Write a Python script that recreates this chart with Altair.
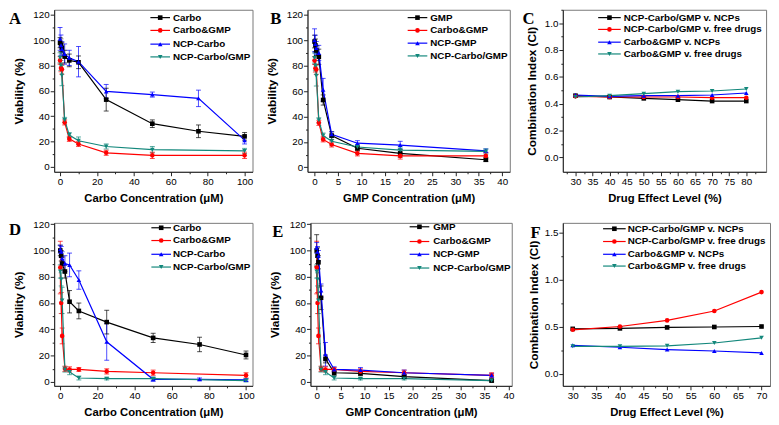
import altair as alt
import pandas as pd

FONT = "Liberation Sans"
COLORS = ["#000000", "#ff0000", "#0000ff", "#12877b"]
SHAPES = ["square", "circle", "triangle-up", "triangle-down"]

# ---------------- data ----------------
carbo_x = [0, 0.5, 1, 2.5, 5, 10, 25, 50, 75, 100]
combo_carbo_x = [0, 0.5, 1, 2.5, 5, 10, 25, 50, 100]
gmp_x = [0, 0.18, 0.37, 0.91, 1.83, 3.65, 9.13, 18.25, 36.5]
ce_x_top = [30, 40, 50, 60, 70, 80]
ce_x_bot = [30, 40, 50, 60, 70]

# Panel A / B (top row)
a_carbo_y = [98, 96, 94, 87, 84, 82.5, 53, 34, 28, 24]
a_carbo_err = [4, 5, 4, 5, 5, 5, 9, 3, 5, 3]
a_ncp_carbo_y = [101, 96, 93, 89, 86, 83, 59.5, 57, 54, 21]
a_ncp_carbo_err = [9, 8, 6, 8, 6, 12, 5.5, 2, 6.5, 3]
top_combo_y = [84, 78, 77, 35, 22, 18, 11, 9, 9]
top_combo_err = [3, 3, 4, 2, 2, 2, 2, 2.5, 2.5]
top_ncp_combo_y = [86, 80, 72, 37, 25, 20.5, 16, 13.5, 12.5]
top_ncp_combo_err = [4, 4, 8, 2, 2, 3, 2, 2.5, 2]
b_gmp_y = [99, 96, 92, 87, 53, 25, 15, 11, 6]
b_gmp_err = [5, 5, 4, 6, 4, 3, 2, 3, 1.5]
b_ncp_gmp_y = [100, 97, 94, 90, 61, 26, 19, 17.5, 13]
b_ncp_gmp_err = [9, 7, 5, 6, 9, 2, 2, 3, 1.5]

# Panel C
c_ncp_v_ncps = [0.46, 0.45, 0.44, 0.43, 0.42, 0.42]
c_ncp_v_free = [0.455, 0.45, 0.45, 0.45, 0.445, 0.445]
c_combo_v_ncps = [0.465, 0.455, 0.46, 0.46, 0.465, 0.48]
c_combo_v_free = [0.45, 0.46, 0.475, 0.49, 0.495, 0.51]

# Panel D / E (bottom row)
d_carbo_y = [100, 96, 90, 84, 61, 54, 45.5, 33.5, 28.5, 20.5]
d_carbo_err = [4, 4, 5, 5, 8.5, 6, 9, 3.5, 5.5, 3]
d_ncp_carbo_y = [101, 99, 94, 90, 89, 77.5, 30.5, 2, 2, 1.5]
d_ncp_carbo_err = [3, 4, 5, 6, 9, 7, 14, 1.5, 1, 1]
bot_combo_y = [87, 60, 35, 10, 9.5, 9.5, 8, 7, 5]
bot_combo_err = [20, 8, 6, 2, 2, 1.5, 2, 2, 2]
bot_ncp_combo_y = [84, 78, 62, 9.5, 7.5, 3, 2.5, 2.5, 1]
bot_ncp_combo_err = [5, 5, 10, 2, 2, 1.5, 1, 1, 1]
e_gmp_y = [100, 96, 91, 64, 17.5, 7, 6.5, 4, 1]
e_gmp_err = [12, 6, 5, 9, 3, 2, 1.5, 1.5, 1]
e_ncp_gmp_y = [102, 99, 96, 69.5, 21, 9.5, 9, 7, 5]
e_ncp_gmp_err = [4, 4, 4, 5, 9, 2, 2, 2, 1.5]

# Panel F
f_ncp_v_ncps = [0.475, 0.48, 0.49, 0.495, 0.5]
f_ncp_v_free = [0.465, 0.5, 0.565, 0.665, 0.865]
f_combo_v_ncps = [0.3, 0.28, 0.255, 0.24, 0.22]
f_combo_v_free = [0.29, 0.29, 0.295, 0.325, 0.38]

names_a = ["Carbo", "Carbo&GMP", "NCP-Carbo", "NCP-Carbo/GMP"]
names_b = ["GMP", "Carbo&GMP", "NCP-GMP", "NCP-Carbo/GMP"]
names_ci = ["NCP-Carbo/GMP v. NCPs", "NCP-Carbo/GMP v. free drugs",
            "Carbo&GMP v. NCPs", "Carbo&GMP v. free drugs"]

carbo_title = "Carbo Concentration (\u03bcM)"
gmp_title = "GMP Concentration (\u03bcM)"
del_title = "Drug Effect Level (%)"
via_title = "Viability (%)"
ci_title = "Combination Index (CI)"


def frange(a, b, step):
    n = int(round((b - a) / step))
    return [round(a + i * step, 6) for i in range(n + 1)]


def panel(letter, letter_xy, series, w, h, xdom, ydom, xticks, xtest,
          yticks, ytest, xtitle, ytitle, legend_geom, yfmt=None, ytpad=8):
    rows = []
    has_err = False
    for k, (name, xs, ys, errs) in enumerate(series):
        for i, (xv, yv) in enumerate(zip(xs, ys)):
            e = errs[i] if errs else 0
            if errs:
                has_err = True
            rows.append(dict(k=k, s=name, x=xv, y=yv, lo=yv - e, hi=yv + e))
    df = pd.DataFrame(rows)
    names = [s[0] for s in series]
    kd = list(range(len(names)))
    color = alt.Color("k:N", scale=alt.Scale(domain=kd, range=COLORS), legend=None)
    shape = alt.Shape("k:N", scale=alt.Scale(domain=kd, range=SHAPES), legend=None)
    xaxis = alt.Axis(values=xticks, labelExpr=f"({xtest}) ? datum.label : ''",
                     tickSize={"condition": {"test": xtest, "value": 4}, "value": 2},
                     title=xtitle, labelOverlap=False)
    yargs = dict(values=yticks, labelExpr=f"({ytest}) ? datum.label : ''",
                 tickSize={"condition": {"test": ytest, "value": 4}, "value": 2},
                 title=ytitle, labelOverlap=False, titlePadding=ytpad)
    if yfmt:
        yargs["format"] = yfmt
    yaxis = alt.Axis(**yargs)
    xs_ = alt.Scale(domain=xdom, nice=False, zero=False)
    ys_ = alt.Scale(domain=ydom, nice=False, zero=False)

    def X():
        return alt.X("x:Q", scale=xs_, axis=xaxis, title=xtitle)

    def Y(f):
        return alt.Y(f"{f}:Q", scale=ys_, axis=yaxis, title=ytitle)

    base = alt.Chart(df)
    layers = []
    if has_err:
        layers.append(base.mark_rule(strokeWidth=1, opacity=0.7).encode(
            x=X(), y=Y("lo"), y2="hi:Q", color=color))
        layers.append(base.mark_tick(orient="horizontal", size=5, thickness=1, opacity=0.7).encode(
            x=X(), y=Y("lo"), color=color))
        layers.append(base.mark_tick(orient="horizontal", size=5, thickness=1, opacity=0.7).encode(
            x=X(), y=Y("hi"), color=color))
    layers.append(base.mark_line(strokeWidth=1.2).encode(x=X(), y=Y("y"), color=color))
    layers.append(base.mark_point(filled=True, size=22, opacity=1).encode(
        x=X(), y=Y("y"), color=color, shape=shape))

    one = alt.Chart(pd.DataFrame({"c": [0]}))
    lx0, lx1, tx, lys = legend_geom
    for i, name in enumerate(names):
        ly = lys[i]
        layers.append(one.mark_rule(color=COLORS[i], strokeWidth=1.2).encode(
            x=alt.value(lx0), x2=alt.value(lx1), y=alt.value(ly)))
        layers.append(one.mark_point(filled=True, shape=SHAPES[i], color=COLORS[i],
                                     size=22, opacity=1).encode(
            x=alt.value((lx0 + lx1) / 2), y=alt.value(ly)))
        layers.append(one.mark_text(align="left", baseline="middle", font=FONT,
                                    fontSize=10, fontWeight="bold", color="black").encode(
            x=alt.value(tx), y=alt.value(ly), text=alt.value(name)))
    layers.append(one.mark_text(align="left", baseline="top", font="Liberation Serif",
                                fontSize=17, fontWeight="bold", color="black").encode(
        x=alt.value(letter_xy[0]), y=alt.value(letter_xy[1]), text=alt.value(letter)))
    return alt.layer(*layers).properties(width=w, height=h)


xt_carbo = frange(0, 100, 10)
t_carbo = "datum.value % 20 === 0"
yt_via = frange(0, 120, 10)
t_via = "datum.value % 20 === 0"
xt_gmp = frange(0, 40, 2.5)
t_five = "datum.value % 5 === 0"

A = panel("A", (-46, 2),
          [(names_a[0], carbo_x, a_carbo_y, a_carbo_err),
           (names_a[1], combo_carbo_x, top_combo_y, top_combo_err),
           (names_a[2], carbo_x, a_ncp_carbo_y, a_ncp_carbo_err),
           (names_a[3], combo_carbo_x, top_ncp_combo_y, top_ncp_combo_err)],
          202, 165, [-3.2, 104.3], [-4, 124], xt_carbo, t_carbo, yt_via, t_via,
          carbo_title, via_title, (98, 118, 121, [8, 21, 35, 48]))

B = panel("B", (-38, 2),
          [(names_b[0], gmp_x, b_gmp_y, b_gmp_err),
           (names_b[1], gmp_x, top_combo_y, top_combo_err),
           (names_b[2], gmp_x, b_ncp_gmp_y, b_ncp_gmp_err),
           (names_b[3], gmp_x, top_ncp_combo_y, top_ncp_combo_err)],
          206, 165, [-1.5, 41.6], [-3.5, 124], xt_gmp, t_five, yt_via, t_via,
          gmp_title, via_title, (102, 122, 125, [8, 21, 34, 47]))

C = panel("C", (-41, 2),
          [(names_ci[0], ce_x_top, c_ncp_v_ncps, None),
           (names_ci[1], ce_x_top, c_ncp_v_free, None),
           (names_ci[2], ce_x_top, c_combo_v_ncps, None),
           (names_ci[3], ce_x_top, c_combo_v_free, None)],
          207, 165, [26.3, 85.8], [-0.107, 1.10], frange(27.5, 82.5, 2.5), t_five,
          frange(0, 1.1, 0.1), "round(datum.value * 10) % 2 === 0",
          del_title, ci_title, (36, 59, 62, [8, 20, 33, 45]), yfmt=".1f", ytpad=6)

D = panel("D", (-46, -1),
          [(names_a[0], carbo_x, d_carbo_y, d_carbo_err),
           (names_a[1], combo_carbo_x, bot_combo_y, bot_combo_err),
           (names_a[2], carbo_x, d_ncp_carbo_y, d_ncp_carbo_err),
           (names_a[3], combo_carbo_x, bot_ncp_combo_y, bot_ncp_combo_err)],
          202, 166, [-3.3, 103.5], [-3, 121], xt_carbo, t_carbo, yt_via, t_via,
          carbo_title, via_title, (99, 119, 121, [5, 18, 32, 45]))

E = panel("E", (-39, 1),
          [(names_b[0], gmp_x, e_gmp_y, e_gmp_err),
           (names_b[1], gmp_x, bot_combo_y, bot_combo_err),
           (names_b[2], gmp_x, e_ncp_gmp_y, e_ncp_gmp_err),
           (names_b[3], gmp_x, bot_ncp_combo_y, bot_ncp_combo_err)],
          205, 166, [-1.3, 40.7], [-3, 121], xt_gmp, t_five, yt_via, t_via,
          gmp_title, via_title, (101, 121, 125, [4, 19, 32, 46]))

F = panel("F", (-33, 2),
          [(names_ci[0], ce_x_bot, f_ncp_v_ncps, None),
           (names_ci[1], ce_x_bot, f_ncp_v_free, None),
           (names_ci[2], ce_x_bot, f_combo_v_ncps, None),
           (names_ci[3], ce_x_bot, f_combo_v_free, None)],
          211, 166, [27.9, 71.8], [-0.13, 1.6], frange(27.5, 70, 2.5), t_five,
          frange(0, 1.5, 0.25), "round(datum.value * 4) % 2 === 0",
          del_title, ci_title, (41, 64, 66, [6, 19, 32, 44]), yfmt=".1f", ytpad=4)

top = alt.hconcat(A, B, C, spacing=11)
bottom = alt.hconcat(D, E, F, spacing=12)
chart = alt.vconcat(top, bottom, spacing=14).properties(
    padding={"left": 0, "top": -8, "right": 0, "bottom": 0}
).configure_view(
    stroke="#777", strokeWidth=1
).configure_axis(
    grid=False,
    labelFont=FONT, labelFontSize=10, labelColor="black", labelPadding=1,
    titleFont=FONT, titleFontSize=12, titleFontWeight="bold", titleColor="black",
    domainColor="#222", tickColor="#222",
).configure_axisX(titlePadding=6, titleFontSize=11.5)

chart.save("out.html", embed_options={"renderer": "svg", "actions": False})
